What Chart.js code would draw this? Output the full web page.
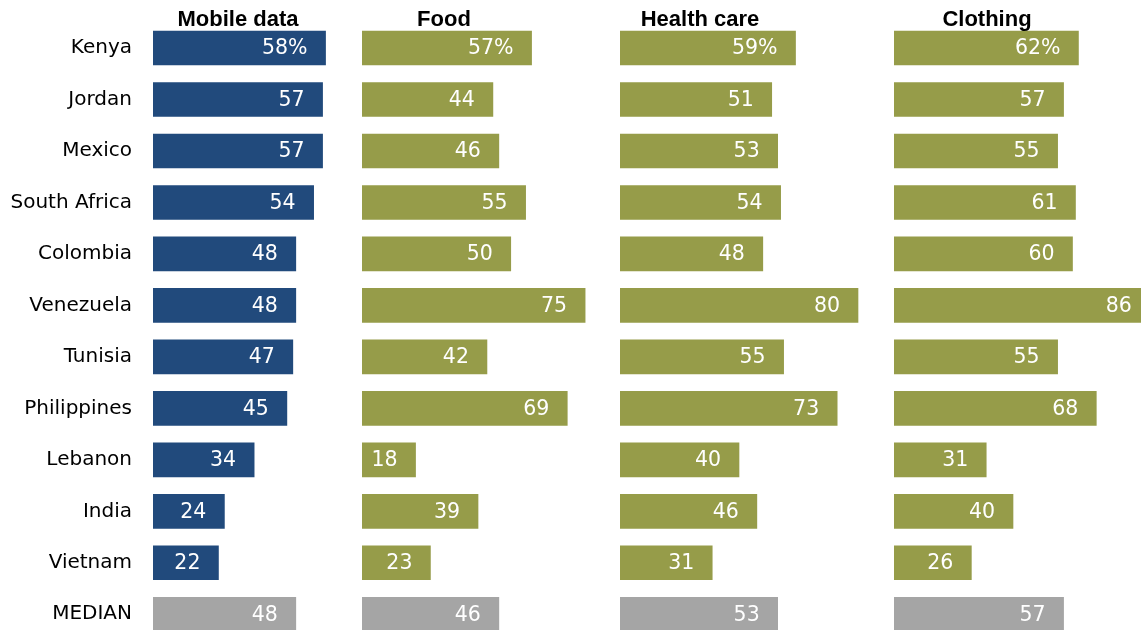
<!DOCTYPE html>
<html>
<head>
<meta charset="utf-8">
<script src="https://cdn.jsdelivr.net/npm/chart.js@4.4.1/dist/chart.umd.min.js"></script>
<style>
  html, body { margin: 0; padding: 0; background: #fff; overflow: hidden; }
  #wrap { position: relative; width: 1141px; height: 630px; overflow: hidden; }
  .panel { position: absolute; top: 0; height: 640px; }
</style>
</head>
<body>
<div id="wrap"></div>
<script>
// Datos
const countries = ["Kenya", "Jordan", "Mexico", "South Africa", "Colombia", "Venezuela",
  "Tunisia", "Philippines", "Lebanon", "India", "Vietnam", "MEDIAN"];
const panelTitles = ["Mobile data", "Food", "Health care", "Clothing"];
const mobileData = [58, 57, 57, 54, 48, 48, 47, 45, 34, 24, 22, 48];
const food = [57, 44, 46, 55, 50, 75, 42, 69, 18, 39, 23, 46];
const healthCare = [59, 51, 53, 54, 48, 80, 55, 73, 40, 46, 31, 53];
const clothing = [62, 57, 55, 61, 60, 86, 55, 68, 31, 40, 26, 57];

const series = [mobileData, food, healthCare, clothing];

// Layout de cada panel
const PX_PER_UNIT = 2.975;
const panels = [
  { left: 0, width: 353, axisWidth: 153, color: "#214a7c", titleX: 85 },
  { left: 362, width: 250, axisWidth: 0, color: "#969c49", titleX: 82 },
  { left: 620, width: 265, axisWidth: 0, color: "#969c49", titleX: 80 },
  { left: 894, width: 260, axisWidth: 0, color: "#969c49", titleX: 93 },
];
const medianColor = "#a5a5a5";

// Etiquetas dentro de las barras
const barLabels = {
  id: "barLabels",
  afterDatasetsDraw(chart) {
    const ctx = chart.ctx;
    const meta = chart.getDatasetMeta(0);
    const data = chart.data.datasets[0].data;
    ctx.save();
    ctx.font = "20.5px 'DejaVu Sans'";
    ctx.fillStyle = "#ffffff";
    ctx.textAlign = "right";
    ctx.textBaseline = "middle";
    meta.data.forEach((bar, i) => {
      const txt = data[i] + (i === 0 ? "%" : "");
      ctx.fillText(txt, bar.x - 18, bar.y + 1);
    });
    ctx.restore();
  },
};

// Titulo de cada panel
const panelTitle = {
  id: "panelTitle",
  afterDraw(chart, args, opts) {
    const ctx = chart.ctx;
    ctx.save();
    ctx.font = "bold 22px 'Liberation Sans'";
    ctx.fillStyle = "#000";
    ctx.textAlign = "center";
    ctx.textBaseline = "alphabetic";
    ctx.fillText(opts.text, chart.chartArea.left + opts.offset, 26);
    ctx.restore();
  },
};

const wrap = document.getElementById("wrap");

panels.forEach((p, k) => {
  const div = document.createElement("div");
  div.className = "panel";
  div.style.left = p.left + "px";
  div.style.width = p.width + "px";
  const canvas = document.createElement("canvas");
  div.appendChild(canvas);
  wrap.appendChild(div);

  const last = countries.length - 1;
  const plotWidth = p.width - p.axisWidth;

  new Chart(canvas, {
    type: "bar",
    data: {
      labels: countries,
      datasets: [
        {
          data: series[k],
          backgroundColor: (c) => (c.dataIndex === last ? medianColor : p.color),
          borderWidth: 0,
          barThickness: 34,
        },
      ],
    },
    options: {
      indexAxis: "y",
      responsive: true,
      maintainAspectRatio: false,
      animation: false,
      layout: { padding: { top: 22.3, bottom: 0, left: 0, right: 0 } },
      scales: {
        x: {
          display: false,
          min: 0,
          max: plotWidth / PX_PER_UNIT,
        },
        y: {
          display: k === 0,
          grid: { display: false, drawTicks: false },
          border: { display: false },
          ticks: {
            padding: 21,
            color: "#000",
            font: { family: "'DejaVu Sans'", size: 20 },
          },
          afterFit: (scale) => {
            scale.width = p.axisWidth;
            scale.paddingTop = 0;
            scale.paddingBottom = 0;
          },
        },
      },
      plugins: {
        legend: { display: false },
        tooltip: { enabled: false },
        panelTitle: { text: panelTitles[k], offset: p.titleX },
      },
    },
    plugins: [barLabels, panelTitle],
  });
});
</script>
</body>
</html>
